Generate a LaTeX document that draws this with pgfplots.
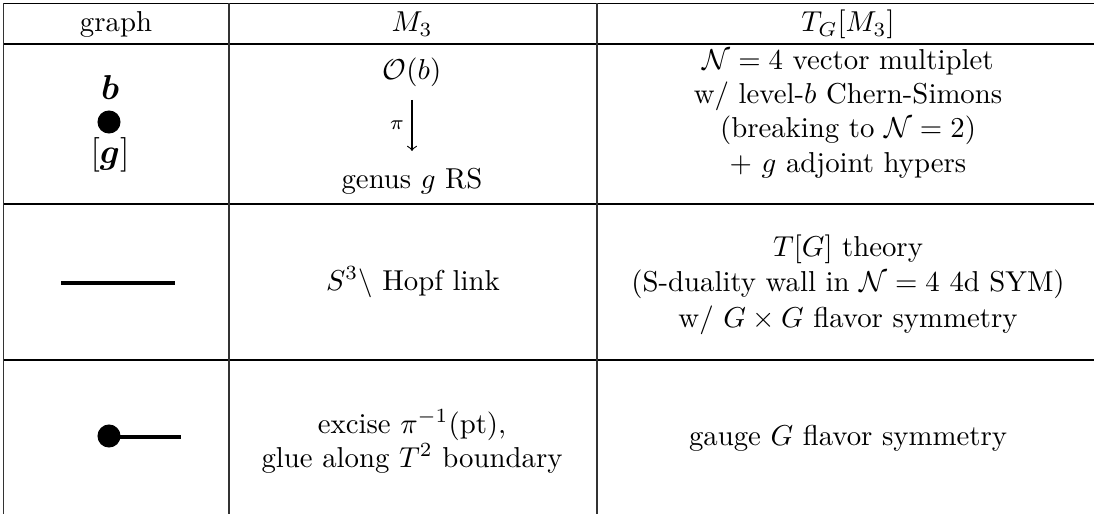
\documentclass[border=0pt]{standalone}
\usepackage{amsmath}
\usepackage{pgfplots}
\pgfplotsset{compat=1.18}
\begin{document}
\begin{tikzpicture}
\begin{axis}[
  width=380pt, height=178.2pt, scale only axis,
  xmin=0, xmax=1094, ymin=0, ymax=513, y dir=reverse,
  hide axis, clip=false,
]
% table rules
\addplot[black, line width=0.4pt] coordinates {(3.5,3.5) (1100,3.5)};
\addplot[black, line width=0.4pt] coordinates {(3.5,44) (1100,44)};
\addplot[black, line width=0.4pt] coordinates {(3.5,204) (1100,204)};
\addplot[black, line width=0.4pt] coordinates {(3.5,360) (1100,360)};
\addplot[black!80, line width=0.4pt] coordinates {(3.5,3.5) (3.5,520)};
\addplot[black!80, line width=0.4pt] coordinates {(229,3.5) (229,520)};
\addplot[black!80, line width=0.4pt] coordinates {(597,3.5) (597,520)};
% graphs
\addplot[only marks, mark=*, mark size=3.8pt, black] coordinates {(109,122)};
\addplot[black, line width=1.3pt] coordinates {(61,283) (175,283)};
\addplot[black, line width=1.3pt] coordinates {(109,437) (181,437)};
\addplot[only marks, mark=*, mark size=3.8pt, black] coordinates {(109,436)};
% arrow pi
\addplot[black, line width=0.4pt, ->] coordinates {(412,100) (412,151)};
% header
\node[anchor=base] at (axis cs:116,32) {graph};
\node[anchor=base] at (axis cs:412,32) {$M_3$};
\node[anchor=base] at (axis cs:848,32) {$T_G[M_3]$};
% row 1
\node[anchor=base] at (axis cs:110,100) {\large$\boldsymbol{b}$};
\node[anchor=base] at (axis cs:110,163) {\large$[\boldsymbol{g}]$};
\node[anchor=base] at (axis cs:412,80) {$\mathcal{O}(b)$};
\node at (axis cs:397,125) {$\scriptstyle\pi$};
\node[anchor=base] at (axis cs:412,188) {genus $g$ RS};
\node[anchor=base] at (axis cs:848,70) {$\mathcal{N}=4$ vector multiplet};
\node[anchor=base] at (axis cs:848,104) {w/ level-$b$ Chern-Simons};
\node[anchor=base] at (axis cs:848,138) {(breaking to $\mathcal{N}=2$)};
\node[anchor=base] at (axis cs:848,172) {$+$ $g$ adjoint hypers};
% row 2
\node[anchor=base] at (axis cs:413,290) {$S^3\backslash$ Hopf link};
\node[anchor=base] at (axis cs:848,256) {$T[G]$ theory};
\node[anchor=base] at (axis cs:848,291) {(S-duality wall in $\mathcal{N}=4$ 4d SYM)};
\node[anchor=base] at (axis cs:848,327) {w/ $G\times G$ flavor symmetry};
% row 3
\node[anchor=base] at (axis cs:412,433) {excise $\pi^{-1}(\mathrm{pt})$,};
\node[anchor=base] at (axis cs:412,467) {glue along $T^2$ boundary};
\node[anchor=base] at (axis cs:848,445) {gauge $G$ flavor symmetry};
\end{axis}
\pgfresetboundingbox
\useasboundingbox (0,0) rectangle (380pt,178.2pt);
\end{tikzpicture}
\end{document}
